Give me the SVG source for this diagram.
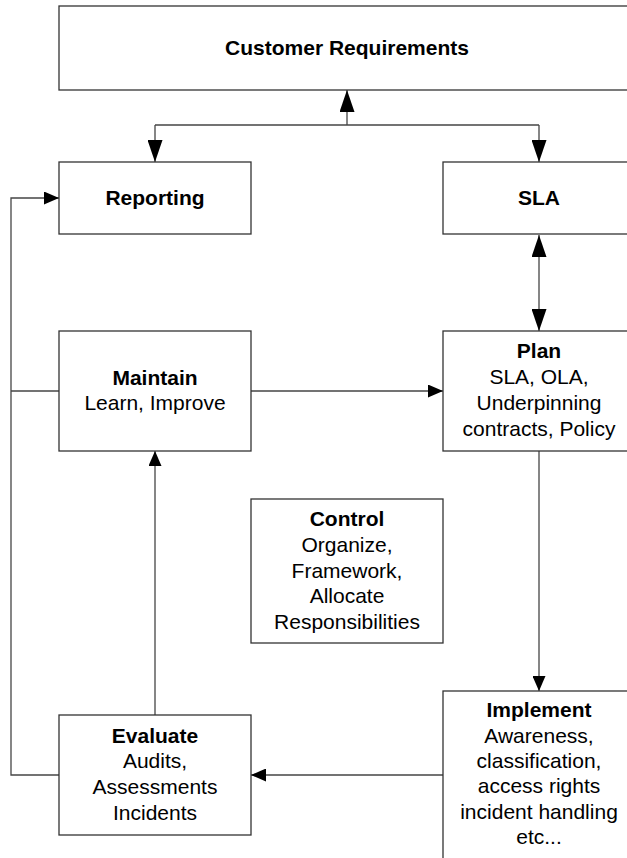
<svg xmlns="http://www.w3.org/2000/svg" width="627" height="858" viewBox="0 0 627 858">
  <style>
    .box { fill: #ffffff; stroke: #333333; stroke-width: 1.3; }
    .wire { fill: none; stroke: #454545; stroke-width: 1.3; }
    text { font-family: "Liberation Sans", Arial, sans-serif; font-size: 21px; fill: #000000; text-anchor: middle; }
    .title { font-weight: bold; }
  </style>
  <defs>
    <marker id="headLong" viewBox="0 0 22 15" refX="22" refY="7.5" markerWidth="22" markerHeight="15" markerUnits="userSpaceOnUse" orient="auto-start-reverse">
      <path d="M0,0 L22,7.5 L0,15 Z" fill="#000000"/>
    </marker>
    <marker id="headShort" viewBox="0 0 15 13" refX="15" refY="6.5" markerWidth="15" markerHeight="13" markerUnits="userSpaceOnUse" orient="auto-start-reverse">
      <path d="M0,0 L15,6.5 L0,13 Z" fill="#000000"/>
    </marker>
  </defs>

  <rect x="0" y="0" width="627" height="858" fill="#ffffff"/>

  <!-- connectors -->
  <g id="connectors">
    <path class="wire" d="M347,125 V90" marker-end="url(#headLong)"/>
    <path class="wire" d="M155,125 H539"/>
    <path class="wire" d="M155,125 V162" marker-end="url(#headLong)"/>
    <path class="wire" d="M539,125 V162" marker-end="url(#headLong)"/>
    <path class="wire" d="M539,235 V331" marker-start="url(#headLong)" marker-end="url(#headLong)"/>
    <path class="wire" d="M251,391 H443" marker-end="url(#headShort)"/>
    <path class="wire" d="M539,451 V691" marker-end="url(#headShort)"/>
    <path class="wire" d="M443,775 H251" marker-end="url(#headShort)"/>
    <path class="wire" d="M155,715 V451" marker-end="url(#headShort)"/>
    <path class="wire" d="M59,775 H11 V198 H59" marker-end="url(#headShort)"/>
    <path class="wire" d="M11,391 H59"/>
  </g>

  <g id="customer-requirements">
    <rect class="box" x="59" y="6" width="576" height="84"/>
    <text class="title" x="347" y="54.5">Customer Requirements</text>
  </g>

  <g id="reporting">
    <rect class="box" x="59" y="162" width="192" height="72"/>
    <text class="title" x="155" y="204.5">Reporting</text>
  </g>

  <g id="sla">
    <rect class="box" x="443" y="162" width="192" height="72"/>
    <text class="title" x="539" y="204.5">SLA</text>
  </g>

  <g id="maintain">
    <rect class="box" x="59" y="331" width="192" height="120"/>
    <text class="title" x="155" y="384.5">Maintain</text>
    <text x="155" y="410.3">Learn, Improve</text>
  </g>

  <g id="plan">
    <rect class="box" x="443" y="331" width="192" height="120"/>
    <text class="title" x="539" y="358.3">Plan</text>
    <text x="539" y="384">SLA, OLA,</text>
    <text x="539" y="409.8">Underpinning</text>
    <text x="539" y="435.5">contracts, Policy</text>
  </g>

  <g id="control">
    <rect class="box" x="251" y="499" width="192" height="144"/>
    <text class="title" x="347" y="526">Control</text>
    <text x="347" y="551.8">Organize,</text>
    <text x="347" y="577.5">Framework,</text>
    <text x="347" y="603.2">Allocate</text>
    <text x="347" y="629">Responsibilities</text>
  </g>

  <g id="evaluate">
    <rect class="box" x="59" y="715" width="192" height="120"/>
    <text class="title" x="155" y="742.5">Evaluate</text>
    <text x="155" y="768.3">Audits,</text>
    <text x="155" y="794">Assessments</text>
    <text x="155" y="819.8">Incidents</text>
  </g>

  <g id="implement">
    <rect class="box" x="443" y="691" width="192" height="180"/>
    <text class="title" x="539" y="717.3">Implement</text>
    <text x="539" y="742.6">Awareness,</text>
    <text x="539" y="767.9">classification,</text>
    <text x="539" y="793.2">access rights</text>
    <text x="539" y="818.5">incident handling</text>
    <text x="539" y="843.8">etc...</text>
  </g>
</svg>
